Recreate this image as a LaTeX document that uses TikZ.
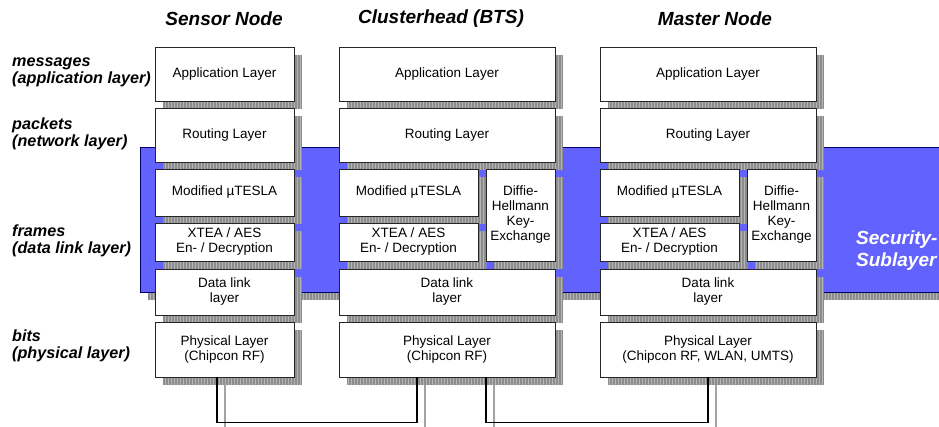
\documentclass[tikz,border=0pt]{standalone}
\usepackage{fontspec}
\setmainfont{Liberation Sans}
\pgfdeclarelayer{lA}\pgfdeclarelayer{lB}\pgfdeclarelayer{lC}
\pgfsetlayers{lA,lB,lC,main}
\definecolor{secblue}{RGB}{98,98,255}
\definecolor{shgray}{RGB}{140,140,140}
\definecolor{shlight}{RGB}{180,180,180}
\tikzset{
  lbox/.style={draw=black!85, line width=0.8pt, fill=white, inner sep=0pt, align=center, font=\fontsize{13.5}{15}\selectfont},
  shadowfill/.style={fill=shgray},
  shadowgrid/.style={draw=shlight, line width=0.6pt, step=3},
  hdr/.style={font=\fontsize{19}{22}\selectfont\bfseries\itshape, inner sep=0pt},
  rowlbl/.style={font=\fontsize{16.2}{17}\selectfont\bfseries\itshape, align=left, anchor=west, inner sep=0pt},
  conn/.style={draw=black, line width=1.2pt},
  connsh/.style={draw=shgray!80, line width=2pt},
}
\newcommand\shadowof[1]{%
  \fill[shadowfill] ([shift={(8pt,-8pt)}]#1.south west) rectangle ([shift={(8pt,-8pt)}]#1.north east);
  \begin{scope}
    \clip ([shift={(8pt,-8pt)}]#1.south west) rectangle ([shift={(8pt,-8pt)}]#1.north east);
    \draw[shadowgrid] ([shift={(8pt,-8pt)}]#1.south west) grid ([shift={(8pt,-8pt)}]#1.north east);
  \end{scope}}
\newcommand\lbx[6]{%
  \node[lbox, minimum width={#4-#2}, minimum height={#5-#3}] (#1) at ({(#2+#4)/2},{(#3+#5)/2}) {#6};
  \begin{pgfonlayer}{lC}\shadowof{#1}\end{pgfonlayer}}
\begin{document}
\begin{tikzpicture}[x=1pt,y=-1pt]
\useasboundingbox (0,0) rectangle (939,426);
\clip (0,0) rectangle (939,426);
% security sublayer band
\begin{pgfonlayer}{lB}
  \node[draw=black!60!blue, line width=0.8pt, fill=secblue, inner sep=0pt, minimum width=830, minimum height=145] (sec) at (555,219.5) {};
\end{pgfonlayer}
\begin{pgfonlayer}{lA}\shadowof{sec}\end{pgfonlayer}
\node[font=\fontsize{19}{22}\selectfont\bfseries\itshape, text=white, align=left, anchor=west, inner sep=0pt] (sectxt) at (856,251) {Security-\\Sublayer};
% headers
\node[hdr] (h1) at (224,19) {Sensor Node};
\node[hdr] (h2) at (441,19) {Clusterhead (BTS)};
\node[hdr] (h3) at (715,19) {Master Node};
% row labels
\node[rowlbl] (r1) at (12,72) {messages\\(application layer)};
\node[rowlbl] (r2) at (12,134) {packets\\(network layer)};
\node[rowlbl] (r3) at (12,241) {frames\\(data link layer)};
\node[rowlbl] (r4) at (12,346) {bits\\(physical layer)};
% sensor node
\lbx{sa}{155}{47}{294}{101}{Application Layer}
\lbx{sr}{155}{108}{294}{162}{Routing Layer}
\lbx{st}{155}{169}{294}{216}{Modified µTESLA}
\lbx{sx}{155}{223}{294}{261}{XTEA / AES\\En- / Decryption}
\lbx{sd}{155}{269}{294}{315}{Data link\\layer}
\lbx{sp}{155}{322}{294}{377}{Physical Layer\\(Chipcon RF)}
% clusterhead
\lbx{ca}{339}{47}{555}{101}{Application Layer}
\lbx{cr}{339}{108}{555}{162}{Routing Layer}
\lbx{ct}{339}{169}{478}{216}{Modified µTESLA}
\lbx{cx}{339}{223}{478}{261}{XTEA / AES\\En- / Decryption}
\lbx{ch}{486}{169}{555}{261}{Diffie-\\Hellmann\\Key-\\Exchange}
\lbx{cd}{339}{269}{555}{315}{Data link\\layer}
\lbx{cp}{339}{322}{555}{377}{Physical Layer\\(Chipcon RF)}
% master
\lbx{ma}{600}{47}{816}{101}{Application Layer}
\lbx{mr}{600}{108}{816}{162}{Routing Layer}
\lbx{mt}{600}{169}{739}{216}{Modified µTESLA}
\lbx{mx}{600}{223}{739}{261}{XTEA / AES\\En- / Decryption}
\lbx{mh}{747}{169}{816}{261}{Diffie-\\Hellmann\\Key-\\Exchange}
\lbx{md}{600}{269}{816}{315}{Data link\\layer}
\lbx{mp}{600}{322}{816}{377}{Physical Layer\\(Chipcon RF, WLAN, UMTS)}
% connectors
\begin{pgfonlayer}{lB}
  \draw[connsh] ([xshift=0.5pt,yshift=-8pt]sp.south) -- ++(0,45) -| ([xshift=-22pt,yshift=-8pt]cp.south);
  \draw[connsh] ([xshift=47pt,yshift=-8pt]cp.south) -- ++(0,45) -| ([xshift=8pt,yshift=-8pt]mp.south);
\end{pgfonlayer}
\draw[conn] ([xshift=-7.5pt]sp.south) -- ++(0,45) -| ([xshift=-30pt]cp.south);
\draw[conn] ([xshift=39pt]cp.south) -- ++(0,45) -| (mp.south);
\end{tikzpicture}
\end{document}
